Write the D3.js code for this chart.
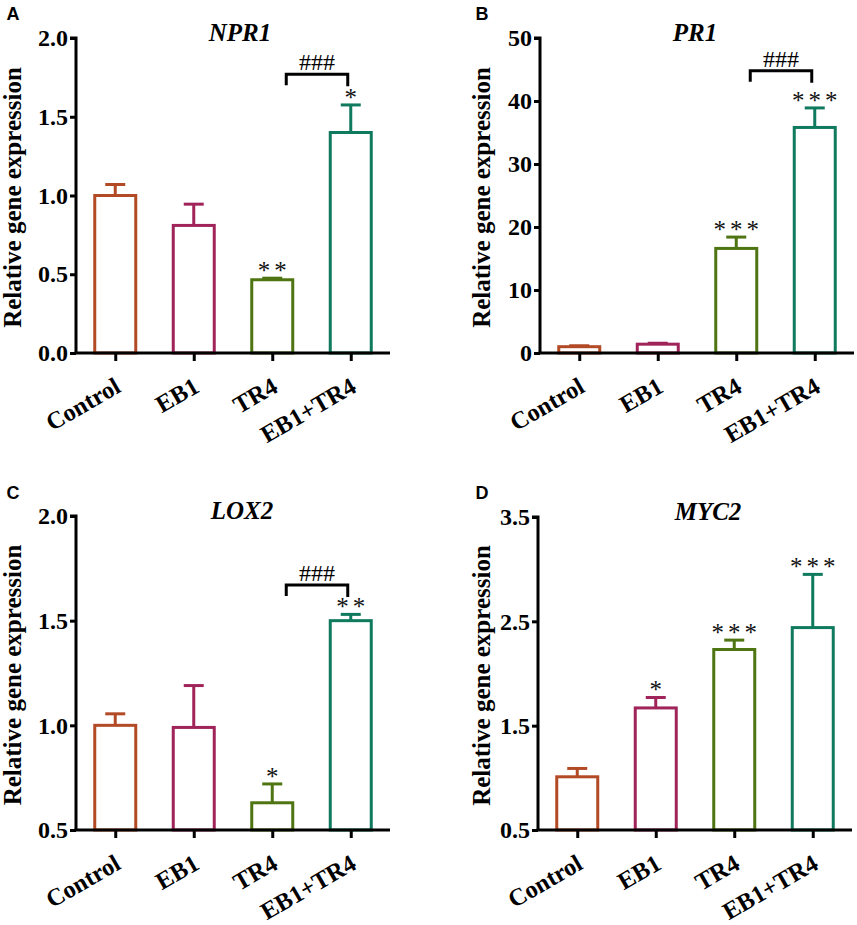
<!DOCTYPE html>
<html><head><meta charset="utf-8">
<script src="https://cdn.jsdelivr.net/npm/d3@7"></script>
<style>body{margin:0;background:#fff}svg{display:block}</style>
</head><body>
<script>
const categories = ["Control", "EB1", "TR4", "EB1+TR4"];
const colors = ["#B24A26", "#A0245A", "#4E7512", "#0F7A5E"];

const titles = ["NPR1", "PR1", "LOX2", "MYC2"];
const panelLetters = ["A", "B", "C", "D"];

const meansA = [1.00, 0.81, 0.465, 1.40];
const errsA  = [0.07, 0.135, 0.01, 0.175];
const starsA = ["", "", "**", "*"];
const ticksA = [0, 0.5, 1.0, 1.5, 2.0];

const meansB = [1.0, 1.4, 16.6, 35.8];
const errsB  = [0.15, 0.15, 1.8, 3.1];
const starsB = ["", "", "***", "***"];
const ticksB = [0, 10, 20, 30, 40, 50];

const meansC = [1.00, 0.99, 0.63, 1.50];
const errsC  = [0.055, 0.20, 0.09, 0.03];
const starsC = ["", "", "*", "**"];
const ticksC = [0.5, 1.0, 1.5, 2.0];

const meansD = [1.01, 1.67, 2.23, 2.44];
const errsD  = [0.08, 0.10, 0.09, 0.51];
const starsD = ["", "*", "***", "***"];
const ticksD = [0.5, 1.5, 2.5, 3.5];

const bracketLevels = [1.77, 44.8, 1.67, null];
const bracketText = "###";

const panels = [
  {means: meansA, errs: errsA, stars: starsA, ticks: ticksA, fmt: d3.format(".1f"), bracket: bracketLevels[0],
   x0: 76, x1: 390, yTop: 38, yBot: 353, lx: 13, ly: 13, ylabX: 13, titleX: 240},
  {means: meansB, errs: errsB, stars: starsB, ticks: ticksB, fmt: d3.format("d"), bracket: bracketLevels[1],
   x0: 540, x1: 854, yTop: 38, yBot: 353, lx: 482, ly: 13, ylabX: 482, titleX: 695},
  {means: meansC, errs: errsC, stars: starsC, ticks: ticksC, fmt: d3.format(".1f"), bracket: bracketLevels[2],
   x0: 76, x1: 390, yTop: 516, yBot: 830, lx: 13, ly: 492, ylabX: 13, titleX: 242},
  {means: meansD, errs: errsD, stars: starsD, ticks: ticksD, fmt: d3.format(".1f"), bracket: bracketLevels[3],
   x0: 538, x1: 852, yTop: 517, yBot: 830, lx: 482, ly: 492, ylabX: 482, titleX: 708}
];

const svg = d3.select("body").append("svg").attr("width", 857).attr("height", 925);
const serif = "'Liberation Serif','Times New Roman',serif";

panels.forEach((p, i) => {
  const g = svg.append("g");
  const x = d3.scalePoint().domain(categories).range([p.x0, p.x1]).padding(0.5);
  const y = d3.scaleLinear().domain([p.ticks[0], p.ticks[p.ticks.length - 1]]).range([p.yBot, p.yTop]);
  const bw = 41, cap = 20;

  categories.forEach((c, k) => {
    const cx = x(c), top = y(p.means[k]), et = y(p.means[k] + p.errs[k]);
    g.append("line").attr("x1", cx).attr("x2", cx).attr("y1", top).attr("y2", et)
      .attr("stroke", colors[k]).attr("stroke-width", 3);
    g.append("line").attr("x1", cx - cap / 2).attr("x2", cx + cap / 2).attr("y1", et).attr("y2", et)
      .attr("stroke", colors[k]).attr("stroke-width", 3);
    g.append("rect").attr("x", cx - bw / 2).attr("y", top).attr("width", bw).attr("height", p.yBot - top)
      .attr("fill", "#fff").attr("stroke", colors[k]).attr("stroke-width", 3);
    if (p.stars[k]) {
      g.append("text").attr("x", cx + 2).attr("y", et + 1).attr("text-anchor", "middle")
        .attr("font-family", serif).attr("font-size", 25).attr("letter-spacing", 4)
        .attr("fill", "#111").text(p.stars[k]);
    }
  });

  const ya = d3.axisLeft(y).tickValues(p.ticks).tickFormat(p.fmt).tickSize(6).tickPadding(2);
  const yg = g.append("g").attr("transform", `translate(${p.x0},0)`).call(ya);
  yg.select(".domain").attr("stroke", "#000").attr("stroke-width", 3).attr("d", `M-6,${p.yTop}H0V${p.yBot}`);
  yg.selectAll(".tick line").attr("stroke", "#000").attr("stroke-width", 3);
  yg.selectAll(".tick text").attr("font-family", serif).attr("font-weight", "bold")
    .attr("font-size", 24).attr("fill", "#000");

  const xa = d3.axisBottom(x).tickSize(8).tickFormat("");
  const xg = g.append("g").attr("transform", `translate(0,${p.yBot})`).call(xa);
  xg.select(".domain").attr("stroke", "#000").attr("stroke-width", 3).attr("d", `M${p.x0 - 1.5},0H${p.x1}`);
  xg.selectAll(".tick line").attr("stroke", "#000").attr("stroke-width", 3);
  categories.forEach(c => {
    g.append("text").attr("transform", `translate(${x(c) + 7},${p.yBot + 38}) rotate(-30)`)
      .attr("text-anchor", "end").attr("font-family", serif).attr("font-weight", "bold")
      .attr("font-size", 24.5).attr("fill", "#000").text(c);
  });

  if (p.bracket != null) {
    const bx1 = x("TR4") + 14, bx2 = x("EB1+TR4") - 3, by = y(p.bracket);
    g.append("path").attr("d", `M${bx1},${by + 11}V${by}H${bx2}V${by + 12}`)
      .attr("fill", "none").attr("stroke", "#000").attr("stroke-width", 3);
    g.append("text").attr("x", (bx1 + bx2) / 2).attr("y", by - 4).attr("text-anchor", "middle")
      .attr("font-family", serif).attr("font-size", 24).attr("fill", "#000").text(bracketText);
  }

  g.append("text").attr("x", p.titleX).attr("y", p.yTop + 3).attr("text-anchor", "middle")
    .attr("font-family", serif).attr("font-weight", "bold").attr("font-style", "italic")
    .attr("font-size", 25).attr("fill", "#000").text(titles[i]);

  g.append("text").attr("transform", `translate(${p.ylabX + 8},${(p.yTop + p.yBot) / 2 + 2}) rotate(-90)`)
    .attr("text-anchor", "middle").attr("font-family", serif).attr("font-weight", "bold")
    .attr("font-size", 25).attr("fill", "#000").text("Relative gene expression");

  g.append("text").attr("x", p.lx).attr("y", p.ly + 7).attr("text-anchor", "middle")
    .attr("font-family", "'Liberation Sans',Arial,sans-serif").attr("font-weight", "bold")
    .attr("font-size", 18).attr("fill", "#000").text(panelLetters[i]);
});
</script>
</body></html>
